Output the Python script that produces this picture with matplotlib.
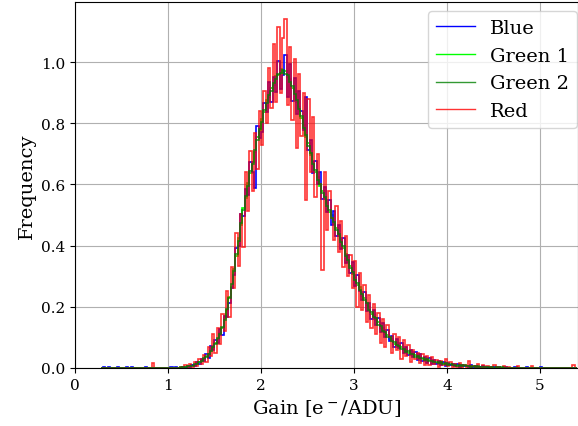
import numpy as np
import matplotlib
matplotlib.use("Agg")
import matplotlib.pyplot as plt

plt.rcParams['font.family'] = 'DejaVu Serif'
plt.rcParams['mathtext.fontset'] = 'dejavuserif'

# histogram grid (bin width 0.025 in gain)
bin_width = 0.025
grid_start = 0.275
n_grid = 205
main_start = 1.1  # first bin of the tabulated block below

# normalised bin heights, bins starting at 1.100, 1.125, ... 4.675
green1 = [
    0.000, 0.001, 0.002, 0.004, 0.004, 0.005, 0.009, 0.010, 0.016, 0.018, 0.025, 0.029,
    0.038, 0.044, 0.057, 0.064, 0.082, 0.093, 0.115, 0.131, 0.163, 0.188, 0.233, 0.266,
    0.324, 0.366, 0.425, 0.466, 0.524, 0.556, 0.605, 0.636, 0.674, 0.706, 0.755, 0.776,
    0.815, 0.836, 0.875, 0.886, 0.915, 0.926, 0.955, 0.958, 0.978, 0.966, 0.970, 0.951,
    0.944, 0.916, 0.905, 0.871, 0.855, 0.816, 0.795, 0.756, 0.735, 0.696, 0.674, 0.641,
    0.624, 0.596, 0.579, 0.551, 0.539, 0.511, 0.499, 0.471, 0.459, 0.431, 0.419, 0.391,
    0.374, 0.346, 0.334, 0.306, 0.294, 0.271, 0.264, 0.236, 0.229, 0.206, 0.199, 0.176,
    0.174, 0.156, 0.149, 0.131, 0.129, 0.111, 0.109, 0.093, 0.094, 0.079, 0.081, 0.067,
    0.070, 0.058, 0.060, 0.049, 0.051, 0.041, 0.043, 0.034, 0.037, 0.028, 0.030, 0.024,
    0.026, 0.020, 0.022, 0.016, 0.019, 0.014, 0.017, 0.012, 0.014, 0.010, 0.013, 0.009,
    0.011, 0.007, 0.009, 0.006, 0.007, 0.005, 0.006, 0.004, 0.005, 0.003, 0.004, 0.003,
    0.004, 0.002, 0.003, 0.002, 0.002, 0.001, 0.002, 0.001, 0.002, 0.001, 0.001, 0.001,
]
green2 = [
    0.000, 0.002, 0.001, 0.003, 0.005, 0.006, 0.007, 0.012, 0.014, 0.020, 0.023, 0.031,
    0.036, 0.046, 0.054, 0.068, 0.079, 0.097, 0.111, 0.135, 0.158, 0.192, 0.228, 0.273,
    0.317, 0.373, 0.416, 0.473, 0.517, 0.563, 0.596, 0.643, 0.667, 0.713, 0.746, 0.783,
    0.806, 0.843, 0.866, 0.893, 0.906, 0.933, 0.946, 0.963, 0.966, 0.973, 0.961, 0.958,
    0.936, 0.923, 0.896, 0.878, 0.846, 0.823, 0.786, 0.763, 0.726, 0.703, 0.666, 0.648,
    0.616, 0.603, 0.571, 0.558, 0.531, 0.518, 0.491, 0.478, 0.451, 0.438, 0.411, 0.398,
    0.366, 0.353, 0.326, 0.313, 0.286, 0.278, 0.256, 0.243, 0.221, 0.213, 0.191, 0.183,
    0.166, 0.163, 0.141, 0.138, 0.121, 0.118, 0.101, 0.100, 0.087, 0.085, 0.074, 0.073,
    0.063, 0.063, 0.053, 0.054, 0.045, 0.046, 0.037, 0.039, 0.031, 0.033, 0.026, 0.028,
    0.022, 0.024, 0.018, 0.020, 0.016, 0.018, 0.013, 0.015, 0.011, 0.013, 0.009, 0.011,
    0.007, 0.009, 0.006, 0.008, 0.005, 0.007, 0.004, 0.006, 0.003, 0.005, 0.002, 0.004,
    0.002, 0.003, 0.001, 0.003, 0.001, 0.002, 0.001, 0.002, 0.001, 0.001, 0.000, 0.001,
]
blue = [
    0.001, 0.000, 0.003, 0.001, 0.006, 0.002, 0.010, 0.007, 0.018, 0.012, 0.030, 0.022,
    0.046, 0.033, 0.072, 0.058, 0.091, 0.083, 0.128, 0.108, 0.171, 0.165, 0.214, 0.262,
    0.305, 0.392, 0.398, 0.503, 0.497, 0.585, 0.565, 0.672, 0.640, 0.590, 0.790, 0.752,
    0.772, 0.868, 0.838, 0.935, 0.870, 0.952, 0.902, 1.005, 0.912, 0.958, 1.022, 0.885,
    0.995, 0.872, 0.948, 0.832, 0.905, 0.842, 0.778, 0.885, 0.712, 0.745, 0.638, 0.676,
    0.602, 0.640, 0.552, 0.592, 0.510, 0.548, 0.468, 0.512, 0.432, 0.468, 0.388, 0.425,
    0.342, 0.370, 0.312, 0.348, 0.268, 0.305, 0.250, 0.222, 0.248, 0.185, 0.214, 0.160,
    0.188, 0.140, 0.162, 0.118, 0.148, 0.100, 0.124, 0.088, 0.106, 0.070, 0.096, 0.064,
    0.082, 0.050, 0.070, 0.042, 0.060, 0.035, 0.052, 0.026, 0.046, 0.022, 0.036, 0.017,
    0.032, 0.014, 0.027, 0.012, 0.024, 0.009, 0.020, 0.006, 0.017, 0.008, 0.014, 0.005,
    0.012, 0.004, 0.009, 0.006, 0.005, 0.003, 0.008, 0.002, 0.005, 0.004, 0.002, 0.006,
    0.001, 0.003, 0.000, 0.004, 0.002, 0.000, 0.003, 0.001, 0.000, 0.002, 0.000, 0.001,
]
red = [
    0.000, 0.004, 0.000, 0.008, 0.002, 0.012, 0.004, 0.020, 0.006, 0.028, 0.012, 0.042,
    0.020, 0.068, 0.040, 0.112, 0.050, 0.130, 0.078, 0.178, 0.120, 0.250, 0.168, 0.330,
    0.262, 0.440, 0.332, 0.505, 0.395, 0.640, 0.512, 0.710, 0.580, 0.770, 0.650, 0.840,
    0.730, 0.905, 0.800, 0.980, 0.850, 1.060, 0.870, 1.115, 0.900, 1.080, 1.140, 0.860,
    1.050, 0.810, 1.010, 0.720, 0.960, 0.760, 0.900, 0.550, 0.880, 0.640, 0.820, 0.560,
    0.700, 0.600, 0.320, 0.640, 0.450, 0.580, 0.490, 0.420, 0.530, 0.380, 0.480, 0.330,
    0.430, 0.300, 0.370, 0.260, 0.350, 0.200, 0.310, 0.190, 0.270, 0.150, 0.240, 0.130,
    0.210, 0.110, 0.180, 0.080, 0.160, 0.070, 0.140, 0.100, 0.050, 0.110, 0.060, 0.100,
    0.030, 0.090, 0.040, 0.075, 0.020, 0.060, 0.030, 0.050, 0.015, 0.045, 0.010, 0.040,
    0.008, 0.035, 0.012, 0.026, 0.004, 0.022, 0.010, 0.030, 0.006, 0.018, 0.002, 0.012,
    0.004, 0.016, 0.000, 0.010, 0.003, 0.022, 0.002, 0.006, 0.000, 0.012, 0.001, 0.008,
    0.000, 0.006, 0.002, 0.000, 0.009, 0.000, 0.004, 0.000, 0.006, 0.000, 0.002, 0.000,
]

# isolated counts far from the bulk: (bin start, height)
blue_outliers = [(0.300, 0.003), (0.350, 0.003), (0.450, 0.003), (0.550, 0.003),
                 (0.600, 0.003), (0.750, 0.003), (1.025, 0.003), (1.075, 0.003),
                 (4.725, 0.003), (4.850, 0.003), (5.000, 0.003)]
red_outliers = [(0.825, 0.015), (4.750, 0.006), (4.900, 0.005), (5.350, 0.010)]

labels = ['Blue', 'Green 1', 'Green 2', 'Red']
colors = ['blue', 'lime', 'green', 'red']
alphas = [1.0, 1.0, 0.8, 0.8]
zorders = [2.0, 1.9, 2.3, 2.1]

edges = grid_start + bin_width * np.arange(n_grid + 1)
i0 = int(round((main_start - grid_start) / bin_width))


def full_hist(main, outliers=()):
    vals = np.zeros(n_grid)
    vals[i0:i0 + len(main)] = main
    for x, h in outliers:
        vals[int(round((x - grid_start) / bin_width))] = h
    return vals


series = [full_hist(blue, blue_outliers), full_hist(green1), full_hist(green2),
          full_hist(red, red_outliers)]

fig = plt.figure(figsize=(5.78, 4.27), dpi=100)
ax = fig.add_axes([0.1298, 0.136, 0.8702, 0.857])

for vals, lab, col, a, z in zip(series, labels, colors, alphas, zorders):
    ax.stairs(vals, edges, color=col, alpha=a, lw=1.2, label=lab, zorder=z)

ax.set_xlim(0, 5.41)
ax.set_ylim(0, 1.197)
ax.grid(True, color='#b0b0b0', lw=0.8)
ax.set_axisbelow(True)
ax.tick_params(labelsize=11)
ax.set_xlabel('Gain [e$^-$/ADU]', fontsize=14)
ax.set_ylabel('Frequency', fontsize=14)
leg = ax.legend(loc='upper right', fontsize=14, borderaxespad=0,
                bbox_to_anchor=(0.998, 0.975))
for line in leg.get_lines():
    line.set_linewidth(1.0)

fig.savefig('out.png', dpi=100)
